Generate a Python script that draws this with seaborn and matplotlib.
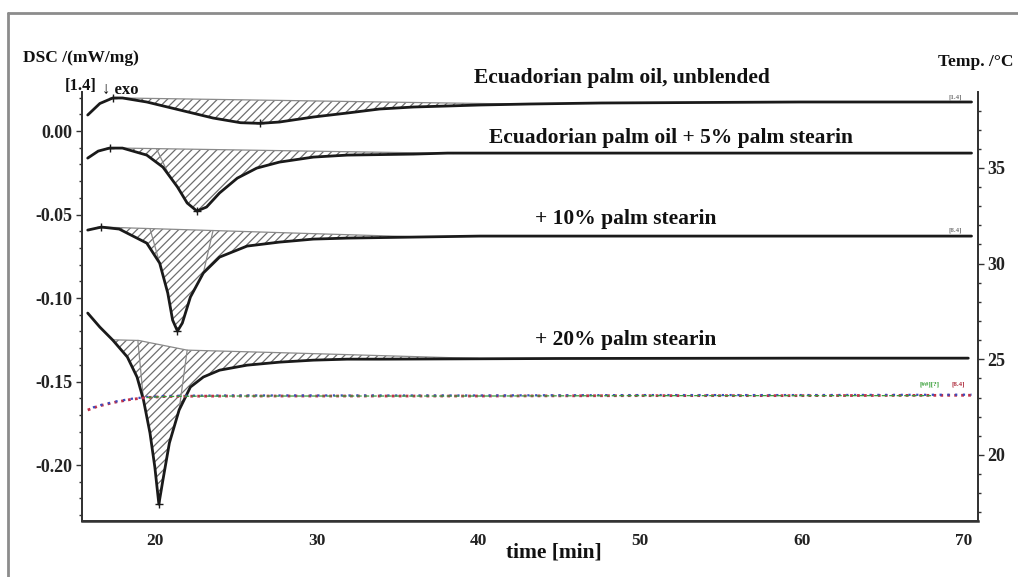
import numpy as np
import pandas as pd
import matplotlib
matplotlib.use("Agg")
import matplotlib.pyplot as plt
from matplotlib.lines import Line2D
from matplotlib.ticker import MultipleLocator, FormatStrFormatter
import seaborn as sns

# ---- DSC traces: time [min] and heat flow [mW/mg] ----
t_unblended = [15.85, 16.6, 17.4, 18.0, 19.5, 21.55, 23.6, 25.3, 26.5, 27.7, 29.8, 31.9,
               33.9, 36.0, 38.1, 40.1, 43.2, 47.6, 53.7, 59.9, 65.0, 70.5]
v_unblended = [0.0096, 0.0165, 0.0198, 0.0198, 0.0174, 0.0126, 0.0078, 0.0050, 0.0046,
               0.0054, 0.0084, 0.0108, 0.0132, 0.0144, 0.0150, 0.0156, 0.0162, 0.0168,
               0.0171, 0.0174, 0.0174, 0.0174]

t_5pct = [15.85, 16.5, 17.2, 18.0, 19.5, 20.5, 21.4, 22.0, 22.6, 23.2, 24.0, 25.1, 26.3,
          27.7, 29.8, 31.9, 36.0, 38.1, 47.6, 60.0, 70.5]
v_5pct = [-0.0162, -0.0120, -0.0102, -0.0102, -0.0144, -0.0216, -0.0335, -0.0431, -0.0479,
          -0.0455, -0.0371, -0.0282, -0.0222, -0.0186, -0.0156, -0.0144, -0.0138, -0.0132,
          -0.0132, -0.0132, -0.0132]

t_10pct = [15.85, 16.7, 17.8, 19.5, 20.3, 20.8, 21.1, 21.4, 21.7, 22.2, 23.0, 24.0, 25.7,
           27.7, 29.8, 31.9, 36.0, 40.1, 55.0, 70.5]
v_10pct = [-0.0593, -0.0575, -0.0587, -0.0671, -0.0791, -0.0970, -0.1132, -0.1198, -0.1150,
           -0.0994, -0.0850, -0.0755, -0.0689, -0.0665, -0.0647, -0.0641, -0.0635, -0.0629,
           -0.0629, -0.0629]

t_20pct = [15.85, 16.6, 17.4, 18.3, 18.9, 19.3, 19.7, 20.0, 20.25, 20.5, 20.9, 21.5, 22.2,
           23.0, 24.0, 25.7, 27.7, 29.8, 31.9, 33.9, 45.0, 60.0, 70.3]
v_20pct = [-0.1090, -0.1174, -0.1252, -0.1353, -0.1473, -0.1611, -0.1808, -0.2012, -0.2234,
           -0.2090, -0.1868, -0.1671, -0.1533, -0.1473, -0.1432, -0.1402, -0.1384, -0.1372,
           -0.1366, -0.1366, -0.1362, -0.1360, -0.1360]

# integration baselines (time, heat flow) bounding the hatched peak areas
base_t = [[18.0, 43.5], [18.0, 38.5], [16.7, 36.0], [17.35, 19.0, 22.0, 28.8, 40.0]]
base_v = [[0.0198, 0.0160], [-0.0102, -0.0134], [-0.0575, -0.0633],
          [-0.1250, -0.1254, -0.1312, -0.1330, -0.1362]]
# partial-area split lines: time on baseline -> time on curve
split_top = [[], [20.1], [19.7, 23.6], [18.95, 22.0]]
split_bot = [[], [20.9], [20.4, 23.0], [19.3, 21.5]]
# curves that carry an onset cross at their first maximum
onset_mark = [True, True, True, False]

curve_labels = ["Ecuadorian palm oil, unblended",
                "Ecuadorian palm oil + 5% palm stearin",
                "+ 10% palm stearin",
                "+ 20% palm stearin"]
label_pos_t = [48.9, 51.9, 49.1, 49.1]
label_pos_v = [0.0318, -0.0042, -0.0527, -0.1252]

# ---- sample temperature programme [°C] ----
t_temp = [15.85, 16.5, 17.5, 18.5, 19.5, 20.5, 22.0, 25.0, 30.0, 40.0, 50.0, 60.0, 70.5]
T_temp = [22.35, 22.55, 22.75, 22.9, 23.0, 23.05, 23.07, 23.08, 23.08, 23.08, 23.1, 23.1, 23.12]

x_ticks = [20, 30, 40, 50, 60, 70]
y_ticks = [0.00, -0.05, -0.10, -0.15, -0.20]
T_ticks = [20, 25, 30, 35]

sns.set_theme(style="white")
plt.rcParams["font.family"] = ["Liberation Serif", "DejaVu Serif"]
plt.rcParams["font.weight"] = "bold"
plt.rcParams["axes.unicode_minus"] = False
plt.rcParams["hatch.color"] = "#6e6e6e"
plt.rcParams["hatch.linewidth"] = 0.9

fig = plt.figure(figsize=(10.18, 5.77), dpi=100)
ax = fig.add_axes([0.0806, 0.0971, 0.8801, 0.7435])
ax2 = ax.twinx()

curves = [(t_unblended, v_unblended), (t_5pct, v_5pct), (t_10pct, v_10pct), (t_20pct, v_20pct)]
rows = []
for i, (tt, vv) in enumerate(curves):
    rows.append(pd.DataFrame({"time": tt, "dsc": vv, "sample": curve_labels[i]}))
df = pd.concat(rows, ignore_index=True)

# hatched peak areas between curve and baseline
for i, (tt, vv) in enumerate(curves):
    tt = np.asarray(tt)
    vv = np.asarray(vv)
    bt, bv = base_t[i], base_v[i]
    m = (tt >= bt[0]) & (tt <= bt[-1])
    xs = np.concatenate([[bt[0]], tt[m], [bt[-1]]])
    ys = np.concatenate([[bv[0]], vv[m], [bv[-1]]])
    bs = np.interp(xs, bt, bv)
    ax.fill_between(xs, bs, ys, facecolor="none", hatch="////", edgecolor="#6e6e6e",
                    linewidth=0)
    ax.plot(bt, bv, color="#8a8a8a", lw=0.9)
    for a, b in zip(split_top[i], split_bot[i]):
        ax.plot([a, b], [np.interp(a, bt, bv), np.interp(b, tt, vv)], color="#8a8a8a", lw=0.9)

sns.lineplot(data=df, x="time", y="dsc", units="sample", estimator=None, sort=False,
             color="#1a1a1a", lw=2.0, ax=ax, legend=False)

# peak / onset crosses
for i, (tt, vv) in enumerate(curves):
    k_min = int(np.argmin(vv))
    px, py = [tt[k_min]], [vv[k_min]]
    if onset_mark[i]:
        k_max = int(np.argmax(vv[:6]))
        px.append(tt[k_max])
        py.append(vv[k_max])
    ax.plot(px, py, ls="none", marker="+", color="#1a1a1a", ms=6, mew=1.0)

for i in range(4):
    ax.text(label_pos_t[i], label_pos_v[i], curve_labels[i], ha="center", va="center",
            fontsize=15.5, fontweight="bold", color="#111111", clip_on=False)

# temperature traces
sns.lineplot(x=t_temp, y=T_temp, ax=ax2, color="#c0304a", lw=2.0, ls=(0, (1, 1.5)))
sns.lineplot(x=t_temp, y=np.asarray(T_temp) + 0.03, ax=ax2, color="#3a4cc0", lw=1.6,
             ls=(1, (1, 2.5)))
sns.lineplot(x=t_temp[4:-1] + [68.0], y=T_temp[4:-1] + [T_temp[-2]], ax=ax2,
             color="#3a9a3a", lw=0.9, ls=(0, (4, 2)))

ax.set_xlim(15.5, 70.9)
ax.set_ylim(-0.2335, 0.0234)
ax2.set_ylim(16.55, 38.97)

ax.set_xticks(x_ticks)
ax.xaxis.set_minor_locator(MultipleLocator(2))
ax.set_yticks(y_ticks)
ax.yaxis.set_major_formatter(FormatStrFormatter("%.2f"))
ax.yaxis.set_minor_locator(MultipleLocator(0.01))
ax2.set_yticks(T_ticks)
ax2.yaxis.set_minor_locator(MultipleLocator(1))

ax.set_xlabel("")
ax.set_ylabel("")
ax2.set_ylabel("")
ax.grid(False)
ax2.grid(False)

ax.tick_params(axis="x", which="both", direction="inout", length=5, width=1.0,
               colors="#333333", labelsize=12.5, labelcolor="#222222", pad=6, top=False)
ax.tick_params(axis="x", which="minor", length=4)
ax.tick_params(axis="y", which="major", direction="out", length=4, width=1.0,
               colors="#333333", labelsize=13, labelcolor="#222222", pad=3)
ax.tick_params(axis="y", which="minor", direction="out", length=2.5, width=1.0, colors="#333333")
ax2.tick_params(axis="y", which="major", direction="out", length=4, width=1.0,
                colors="#333333", labelsize=13, labelcolor="#222222", pad=3)
ax2.tick_params(axis="y", which="minor", direction="out", length=2.5, width=1.0, colors="#333333")
for lbl in ax.get_xticklabels() + ax.get_yticklabels() + ax2.get_yticklabels():
    lbl.set_fontweight("bold")

for a in (ax, ax2):
    a.spines["top"].set_visible(False)
    for s in ("left", "right", "bottom"):
        a.spines[s].set_color("#333333")
        a.spines[s].set_linewidth(1.3)
ax.spines["bottom"].set_linewidth(1.8)
ax.patch.set_alpha(0)

# small segment tags at the trace ends
ax.text(69.5, 0.0185, "[1.4]", fontsize=5, color="#777777", ha="center", va="bottom")
ax.text(69.5, -0.0610, "[8.4]", fontsize=5, color="#777777", ha="center", va="bottom")
ax2.text(67.9, 23.55, "[##][?]", fontsize=5, color="#2e9a2e", ha="center", va="bottom")
ax2.text(69.7, 23.55, "[8.4]", fontsize=5, color="#b03040", ha="center", va="bottom")

# axis titles
fig.text(23 / 1018, 1 - 58 / 577, "DSC /(mW/mg)", fontsize=12.5, fontweight="bold",
         ha="left", va="center", color="#111111")
fig.text(97 / 1018, 1 - 86 / 577, "[1.4]", fontsize=12, fontweight="bold",
         ha="right", va="center", color="#111111")
fig.text(102 / 1018, 1 - 90 / 577, "\u2193 exo", fontsize=12, fontweight="bold",
         ha="left", va="center", color="#111111", family=["Liberation Serif", "DejaVu Sans"])
fig.text(938 / 1018, 1 - 62 / 577, "Temp. /\u00b0C", fontsize=12.5, fontweight="bold",
         ha="left", va="center", color="#111111")
fig.text(554 / 1018, 1 - 552 / 577, "time [min]", fontsize=15.5, fontweight="bold",
         ha="center", va="center", color="#111111")

# outer frame
fig.add_artist(Line2D([8 / 1018, 8 / 1018], [0, 1 - 13 / 577], transform=fig.transFigure,
                      color="#8c8c8c", lw=2.0))
fig.add_artist(Line2D([8 / 1018, 1], [1 - 13 / 577, 1 - 13 / 577], transform=fig.transFigure,
                      color="#8c8c8c", lw=2.0))

fig.savefig("out.png", dpi=100, facecolor="white")
